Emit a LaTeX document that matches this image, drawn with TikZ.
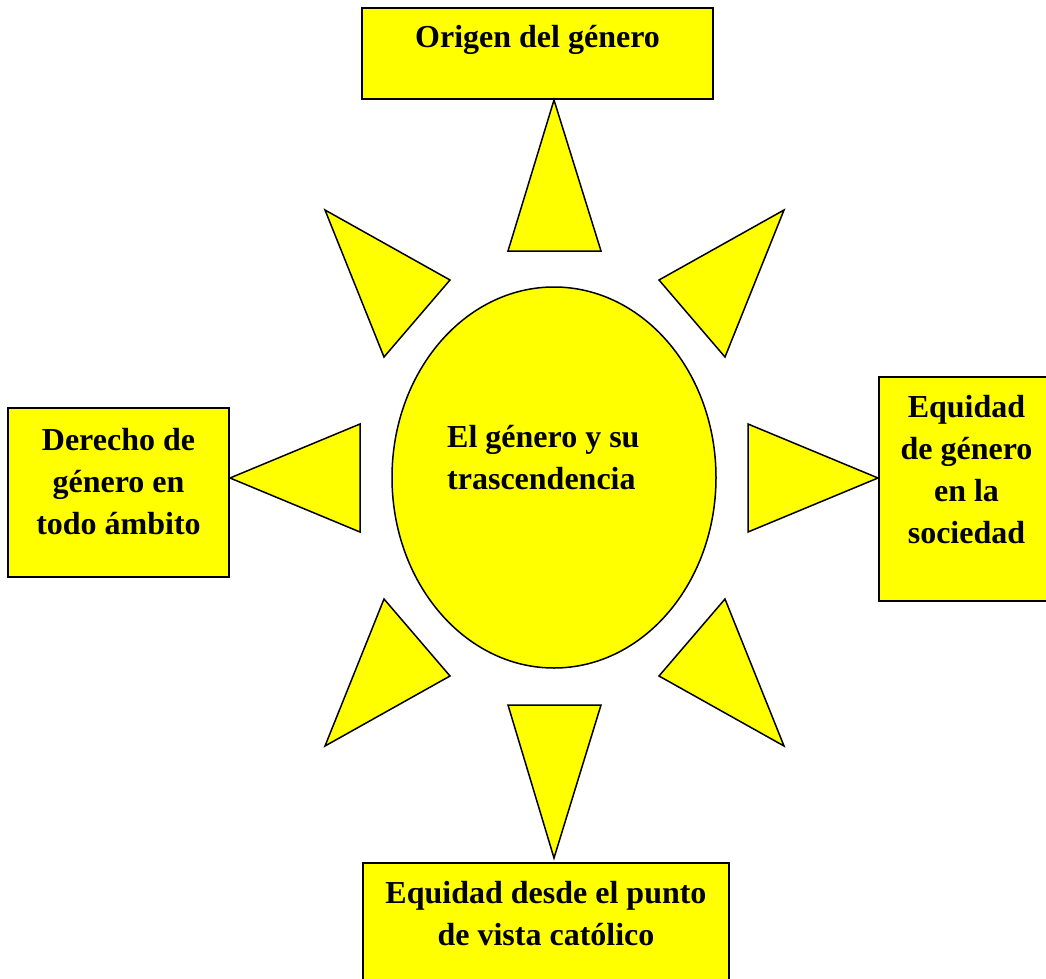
\documentclass[tikz,border=0pt]{standalone}
\usepackage{fontspec}
\setmainfont{Liberation Serif}
\usetikzlibrary{shapes.geometric}
\definecolor{sunyellow}{RGB}{255,255,0}
\tikzset{
  boxshape/.style={draw=black, fill=sunyellow, line width=1.5pt, rectangle, inner sep=0pt},
  ray/.style={draw=black, fill=sunyellow, line width=1.5pt, line join=miter},
  lbl/.style={inner sep=0pt, font=\fontsize{32}{42}\selectfont\bfseries}
}
\begin{document}
\begin{tikzpicture}[x=1pt,y=-1pt]
\useasboundingbox (0,0) rectangle (1046,979);
% boxes
\node[boxshape, minimum width=351pt, minimum height=91pt] (top) at (537.5,53.5) {};
\node[boxshape, minimum width=221pt, minimum height=169pt] (left) at (118.5,492.5) {};
\node[boxshape, minimum width=175pt, minimum height=224pt] (right) at (966.5,489) {};
\node[boxshape, minimum width=366pt, minimum height=130pt] (bottom) at (546,928) {};
% rays
\path[ray] (554,100) -- (601,251) -- (508,251) -- cycle;
\path[ray] (554,858) -- (601,705) -- (508,705) -- cycle;
\path[ray] (230,478) -- (360,424) -- (360,532) -- cycle;
\path[ray] (878,478) -- (748,424) -- (748,532) -- cycle;
\path[ray] (325,210) -- (450,280) -- (384,357) -- cycle;
\path[ray] (784,210) -- (659,280) -- (725,357) -- cycle;
\path[ray] (325,746) -- (450,676) -- (384,599) -- cycle;
\path[ray] (784,746) -- (659,676) -- (725,599) -- cycle;
% centre
\node[draw=black, fill=sunyellow, line width=1.5pt, ellipse, inner sep=0pt,
      minimum width=324pt, minimum height=381pt] (sun) at (554,477.5) {};
% texts
\node[lbl, anchor=base] (ttop) at (537.5,48) {\begin{tabular}[t]{@{}c@{}}Origen del género\end{tabular}};
\node[lbl, anchor=base] (tleft) at (118.5,450) {\begin{tabular}[t]{@{}c@{}}Derecho de\\género en\\todo ámbito\end{tabular}};
\node[lbl, anchor=base] (tright) at (966.5,417) {\begin{tabular}[t]{@{}c@{}}Equidad\\de género\\en la\\sociedad\end{tabular}};
\node[lbl, anchor=base] (tbottom) at (546,903) {\begin{tabular}[t]{@{}c@{}}Equidad desde el punto\\de vista católico\end{tabular}};
\node[lbl, anchor=base west] (tsun) at (447,447) {\begin{tabular}[t]{@{}l@{}}El género y su\\trascendencia\end{tabular}};
\end{tikzpicture}
\end{document}
